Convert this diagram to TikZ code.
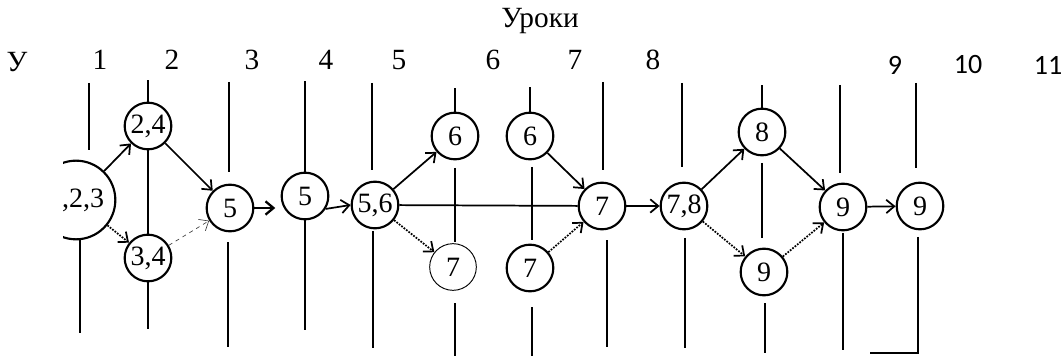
\documentclass[tikz,border=0pt]{standalone}
\usepackage{fontspec}
\setmainfont{Liberation Serif}
\newfontfamily\sansnum{Carlito}
\usetikzlibrary{arrows.meta}

\begin{document}
\begin{tikzpicture}[
    x=0.75pt, y=-0.75pt,
    % Define styles for consistency
    lesson/.style={circle, draw, line width=1.6pt, minimum size=35pt, inner sep=0pt, font=\fontsize{21}{22}\selectfont},
    faint_lesson/.style={lesson, line width=0.7pt},
    big_lesson/.style={lesson, minimum size=59pt},
    col_label/.style={font=\fontsize{22}{24}\selectfont},
    sans_label/.style={font=\sansnum\fontsize{21}{22}\selectfont},
    grid_line/.style={line width=1.3pt},
    link/.style={->, line width=1.3pt},
    dot_link/.style={->, line width=1.3pt, densely dotted},
    thin_link/.style={->, line width=0.5pt, dashed, black!75},
    >={Straight Barb[length=6pt, width=10pt]}
]
    \useasboundingbox (0,0) rectangle (1064,356);

    % ---------------------------------------------------------
    % 1. Headings
    % ---------------------------------------------------------
    \node[col_label] (title) at (540,21) {Уроки};
    \node[col_label] (col-y) at (17,62) {У};
    \foreach \x/\label in {100/1, 172/2, 252/3, 326/4, 399/5, 493/6, 575/7, 653/8} {
        \node[col_label] (col-\label) at (\x,60) {\label};
    }
    \foreach \x/\label in {895/9, 968/10, 1048/11} {
        \node[sans_label] (col-\label) at (\x,65) {\label};
    }

    % ---------------------------------------------------------
    % 2. Lesson circles
    % ---------------------------------------------------------
    \begin{scope}
        \clip (63,0) rectangle (1064,356);
        \node[big_lesson] (n123) at (76,200) {1,2,3};
    \end{scope}
    \node[lesson] (n24) at (148,126) {2,4};
    \node[lesson] (n34) at (148,258) {3,4};
    \node[lesson] (n5a) at (230,208) {5};
    \node[lesson] (n5b) at (305,196) {5};
    \node[lesson] (n56) at (375,205) {5,6};
    \node[lesson] (n6a) at (455,136) {6};
    \node[faint_lesson] (n7a) at (453,267) {7};
    \node[lesson] (n6b) at (530,136) {6};
    \node[lesson] (n7b) at (530,268) {7};
    \node[lesson] (n7c) at (602,206) {7};
    \node[lesson] (n78) at (684,206) {7,8};
    \node[lesson] (n8) at (762,132) {8};
    \node[lesson] (n9a) at (764,272) {9};
    \node[lesson] (n9b) at (843,207) {9};
    \node[lesson] (n9c) at (920,206) {9};

    % ---------------------------------------------------------
    % 3. Column lines
    % ---------------------------------------------------------
    \foreach \xa/\ya/\xb/\yb in {89/83/89/150, 80/240/80/333, 229/82/229/172, 228/242/228/347,
        372/83/372/170, 373/231/373/348, 455/168/455/242, 455/303/455/356,
        532/167/532/240, 532/307/532/356, 603/82/603/170, 607/240/607/347,
        682/83/682/167, 685/238/685/348, 762/163/762/238, 765/303/765/353,
        840/85/840/173, 843/233/843/350, 916/83/916/168} {
        \draw[grid_line] (\xa,\ya) -- (\xb,\yb);
    }
    \draw[grid_line] (n24.north) -- ++(0,-22);
    \draw[grid_line] (n24.south) -- (n34.north);
    \draw[grid_line] (n34.south) -- ++(0,47);
    \draw[grid_line] (n5b.north) -- ++(0,-91);
    \draw[grid_line] (n5b.south) -- ++(0,110);
    \draw[grid_line] (n6a.north) -- ++(0,-24);
    \draw[grid_line] (n6b.north) -- ++(0,-25);
    \draw[grid_line] (n8.north) -- ++(0,-23);
    \draw[grid_line] (918,237) -- (918,353) -- (870,353);

    % ---------------------------------------------------------
    % 4. Links between lessons
    % ---------------------------------------------------------
    \draw[link] (n123) -- (n24);
    \draw[dot_link] (n123) -- (n34);
    \draw[link] (n24) -- (n5a);
    \draw[thin_link] (n34) -- (n5a);
    \draw[link, line width=1.7pt] (n5a.east) -- ([xshift=-4pt]n5a -| n5b.west);
    \draw[link] (n5b.-32) -- (n56.west);
    \draw[link] (n56) -- (n6a);
    \draw[dot_link] (n56) -- (n7a);
    \draw[line width=1.3pt] (n56) -- (n7c);
    \draw[link] (n6b) -- (n7c);
    \draw[dot_link] (n7b) -- (n7c);
    \draw[link] (n7c) -- (n78);
    \draw[link] (n78) -- (n8);
    \draw[dot_link] (n78) -- (n9a);
    \draw[link] (n8) -- (n9b);
    \draw[dot_link] (n9a) -- (n9b);
    \draw[link] (n9b) -- (n9c);
\end{tikzpicture}
\end{document}
